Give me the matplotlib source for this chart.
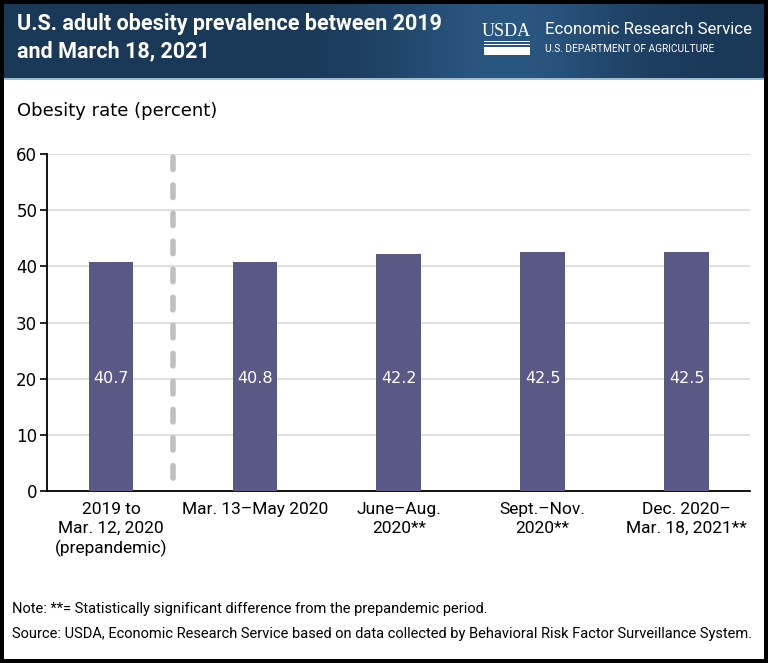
import matplotlib.pyplot as plt
from matplotlib.patches import Rectangle
import numpy as np

periods = ["2019 to\nMar. 12, 2020\n(prepandemic)", "Mar. 13\u2013May 2020",
           "June\u2013Aug.\n2020**", "Sept.\u2013Nov.\n2020**", "Dec. 2020\u2013\nMar. 18, 2021**"]
obesity_rate = [40.7, 40.8, 42.2, 42.5, 42.5]
value_labels = ["40.7", "40.8", "42.2", "42.5", "42.5"]
y_ticks = [0, 10, 20, 30, 40, 50, 60]

plt.rcParams['font.family'] = ['Liberation Sans Narrow', 'Roboto', 'DejaVu Sans']

W, H = 768, 663
fig = plt.figure(figsize=(W / 100, H / 100), dpi=100)
fig.patch.set_facecolor('black')

# white card inside thin black border
fig.add_artist(Rectangle((4 / W, 4 / H), 1 - 8 / W, 1 - 8 / H, transform=fig.transFigure,
                         facecolor='white', edgecolor='none', zorder=0))

# header band with a soft gradient
hdr = fig.add_axes([4 / W, 1 - 78 / H, 1 - 8 / W, 74 / H])
hdr.set_axis_off()
grad = np.linspace(0, 1, 256)
shade = np.exp(-((grad - 0.66) / 0.16) ** 2)
c0 = np.array([0x1a, 0x38, 0x58]) / 255
c1 = np.array([0x2a, 0x57, 0x82]) / 255
img = c0[None, :] * (1 - shade[:, None]) + c1[None, :] * shade[:, None]
hdr.imshow(img[None, :, :], aspect='auto', extent=[0, 1, 0, 1])
hdr.set_xlim(0, 1)
hdr.set_ylim(0, 1)
fig.add_artist(Rectangle((4 / W, 1 - 80 / H), 1 - 8 / W, 2 / H, transform=fig.transFigure,
                         facecolor='#9dbbd3', edgecolor='none'))

fig.text(17 / W, 1 - 38 / H, "U.S. adult obesity prevalence between 2019\nand March 18, 2021",
         color='white', fontsize=15.5, fontweight='bold', va='center', ha='left', linespacing=1.3)

# USDA logo
fig.text(482 / W, 1 - 31 / H, "USDA", color='white', fontsize=13, family=['Liberation Serif'],
         va='center', ha='left')
for yy in (41, 44):
    fig.add_artist(Rectangle((484 / W, 1 - (yy + 1) / H), 46 / W, 1 / H, transform=fig.transFigure,
                             facecolor='white', edgecolor='none'))
fig.add_artist(Rectangle((484 / W, 1 - 55 / H), 46 / W, 8 / H, transform=fig.transFigure,
                         facecolor='white', edgecolor='none'))
fig.text(545 / W, 1 - 30 / H, "Economic Research Service", color='white', fontsize=12.2,
         va='center', ha='left')
fig.text(545 / W, 1 - 49 / H, "U.S. DEPARTMENT OF AGRICULTURE", color='white', fontsize=7.3,
         va='center', ha='left')

ax = fig.add_axes([47 / W, 172 / H, 703 / W, 337 / H])
x = np.arange(len(periods))
ax.bar(x, obesity_rate, width=0.31, color='#5a5986', zorder=3)
for xi, lab in zip(x, value_labels):
    ax.text(xi, 20, lab, color='white', ha='center', va='center', fontsize=11.5,
            family=['DejaVu Sans'], zorder=4)

ax.set_xlim(-0.444, 4.44)
ax.set_ylim(0, 60)
ax.set_yticks(y_ticks)
ax.tick_params(axis='y', labelsize=12, length=5, width=1.2, pad=2)
for t in ax.get_yticklabels():
    t.set_family('DejaVu Sans')
ax.set_xticks(x)
ax.set_xticklabels(periods, fontsize=12.5, linespacing=1.3)
ax.tick_params(axis='x', length=0, pad=8)
ax.yaxis.grid(True, color='#dadada', linewidth=1.2, zorder=0)
ax.set_axisbelow(True)
for s in ['top', 'right']:
    ax.spines[s].set_visible(False)
ax.spines['left'].set_linewidth(1.3)
ax.spines['bottom'].set_linewidth(1.3)

# divider between prepandemic and pandemic periods (dashes start at the top)
ax.plot([0.43, 0.43], [59.5, 0.5], color='#bfbfbf', linewidth=4, linestyle=(0, (2.25, 2.8)),
        dash_capstyle='round', zorder=2, clip_on=False)

fig.text(17 / W, 1 - 111 / H, "Obesity rate (percent)", fontsize=13, ha='left', va='center',
         family=['DejaVu Sans'])

fig.text(12 / W, 1 - 609 / H, "Note: **= Statistically significant difference from the prepandemic period.",
         fontsize=10.5, ha='left', va='center')
fig.text(12 / W, 1 - 634 / H,
         "Source: USDA, Economic Research Service based on data collected by Behavioral Risk Factor Surveillance System.",
         fontsize=10.5, ha='left', va='center')

fig.savefig('out.png', dpi=100, facecolor='black')
